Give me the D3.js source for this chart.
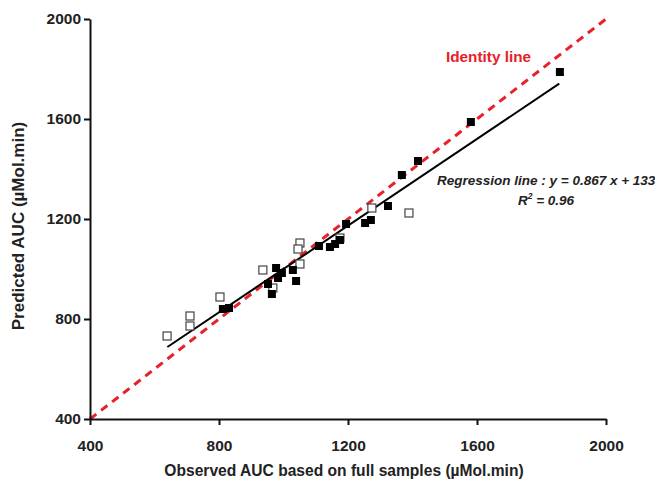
<!DOCTYPE html>
<html>
<head>
<meta charset="utf-8">
<script src="https://cdn.jsdelivr.net/npm/d3@7"></script>
<style>
  body { margin: 0; background: #fff; }
  text { font-family: "Liberation Sans", Arial, sans-serif; }
</style>
</head>
<body>
<div id="chart-area"></div>
<script>
// filled squares
var filledObs  = [812, 831, 952, 964, 977, 995, 983, 1029, 1039, 1110, 1144, 1160, 1175, 1194, 1253, 1271, 1324, 1367, 1417, 1581, 1857];
var filledPred = [840, 844, 940, 900, 1004, 984, 964, 996, 952, 1092, 1088, 1100, 1116, 1180, 1184, 1196, 1252, 1376, 1432, 1588, 1788];
// open squares
var openObs  = [639, 710, 710, 803, 936, 967, 1051, 1045, 1051, 1175, 1274, 1389];
var openPred = [732, 812, 772, 888, 996, 924, 1104, 1080, 1020, 1124, 1244, 1224];

var ticks = [400, 800, 1200, 1600, 2000];
var slope = 0.867, intercept = 133;
var regRange = [640, 1855];

var width = 655, height = 481;
var margin = { top: 19, right: 49, bottom: 62, left: 90 };
var chartWidth = width - margin.left - margin.right;
var chartHeight = height - margin.top - margin.bottom;

var svg = d3.select("#chart-area")
  .append("svg")
  .attr("width", width)
  .attr("height", height);

var g = svg.append("g")
  .attr("transform", "translate(" + margin.left + "," + margin.top + ")");

var x = d3.scaleLinear().domain([400, 2000]).range([0, chartWidth]);
var y = d3.scaleLinear().domain([400, 2000]).range([chartHeight, 0]);

// identity line
g.append("line")
  .attr("x1", x(400)).attr("y1", y(400))
  .attr("x2", x(2000)).attr("y2", y(2000))
  .attr("stroke", "#e8202a")
  .attr("stroke-width", 3)
  .attr("stroke-dasharray", "8,6");

// regression line
g.append("line")
  .attr("x1", x(regRange[0])).attr("y1", y(slope * regRange[0] + intercept))
  .attr("x2", x(regRange[1])).attr("y2", y(slope * regRange[1] + intercept))
  .attr("stroke", "#000")
  .attr("stroke-width", 2);

var s = 8;
var openData = openObs.map((d, i) => ({ x: d, y: openPred[i] }));
var filledData = filledObs.map((d, i) => ({ x: d, y: filledPred[i] }));

g.selectAll(".open")
  .data(openData).enter()
  .append("rect")
  .attr("class", "open")
  .attr("x", d => x(d.x) - s / 2)
  .attr("y", d => y(d.y) - s / 2)
  .attr("width", s).attr("height", s)
  .attr("fill", "#fff")
  .attr("stroke", "#444")
  .attr("stroke-width", 1.2);

g.selectAll(".filled")
  .data(filledData).enter()
  .append("rect")
  .attr("class", "filled")
  .attr("x", d => x(d.x) - s / 2)
  .attr("y", d => y(d.y) - s / 2)
  .attr("width", s).attr("height", s)
  .attr("fill", "#000");

// axes
var bottomAxis = d3.axisBottom(x).tickValues(ticks).tickFormat(d3.format("d"))
  .tickSize(6).tickSizeOuter(0).tickPadding(15);
var xg = g.append("g")
  .attr("transform", "translate(0," + chartHeight + ")")
  .call(bottomAxis);

var leftAxis = d3.axisLeft(y).tickValues(ticks).tickFormat(d3.format("d"))
  .tickSize(6).tickSizeOuter(0).tickPadding(3);
var yg = g.append("g").call(leftAxis);

[xg, yg].forEach(a => {
  a.select(".domain").attr("stroke", "#111").attr("stroke-width", 2);
  a.selectAll(".tick line").attr("stroke", "#111").attr("stroke-width", 2);
  a.selectAll(".tick text")
    .attr("font-size", "15.5px")
    .attr("font-weight", "bold")
    .attr("fill", "#222")
    .style("font-family", "Liberation Sans, Arial, sans-serif");
});

// axis titles
svg.append("text")
  .attr("x", -226)
  .attr("y", 24)
  .attr("transform", "rotate(-90)")
  .attr("text-anchor", "middle")
  .attr("font-size", "17px")
  .attr("font-weight", "bold")
  .attr("fill", "#222")
  .text("Predicted AUC (µMol.min)");

svg.append("text")
  .attr("x", 344)
  .attr("y", 476)
  .attr("text-anchor", "middle")
  .attr("font-size", "15.6px")
  .attr("font-weight", "bold")
  .attr("fill", "#222")
  .text("Observed AUC based on full samples (µMol.min)");

// annotations
svg.append("text")
  .attr("x", 446)
  .attr("y", 62)
  .attr("font-size", "15.3px")
  .attr("font-weight", "bold")
  .attr("fill", "#e8202a")
  .text("Identity line");

svg.append("text")
  .attr("x", 437)
  .attr("y", 185)
  .attr("font-size", "13.5px")
  .attr("font-weight", "bold")
  .attr("font-style", "italic")
  .attr("fill", "#222")
  .attr("xml:space", "preserve")
  .text("Regression line : y = 0.867 x + 133");

var r2 = svg.append("text")
  .attr("x", 546)
  .attr("y", 205)
  .attr("text-anchor", "middle")
  .attr("font-size", "13.5px")
  .attr("font-weight", "bold")
  .attr("font-style", "italic")
  .attr("fill", "#222");
r2.append("tspan").text("R");
r2.append("tspan").attr("dy", -6).attr("font-size", "8.5px").text("2");
r2.append("tspan").attr("dy", 6).text("  = 0.96");
</script>
</body>
</html>
